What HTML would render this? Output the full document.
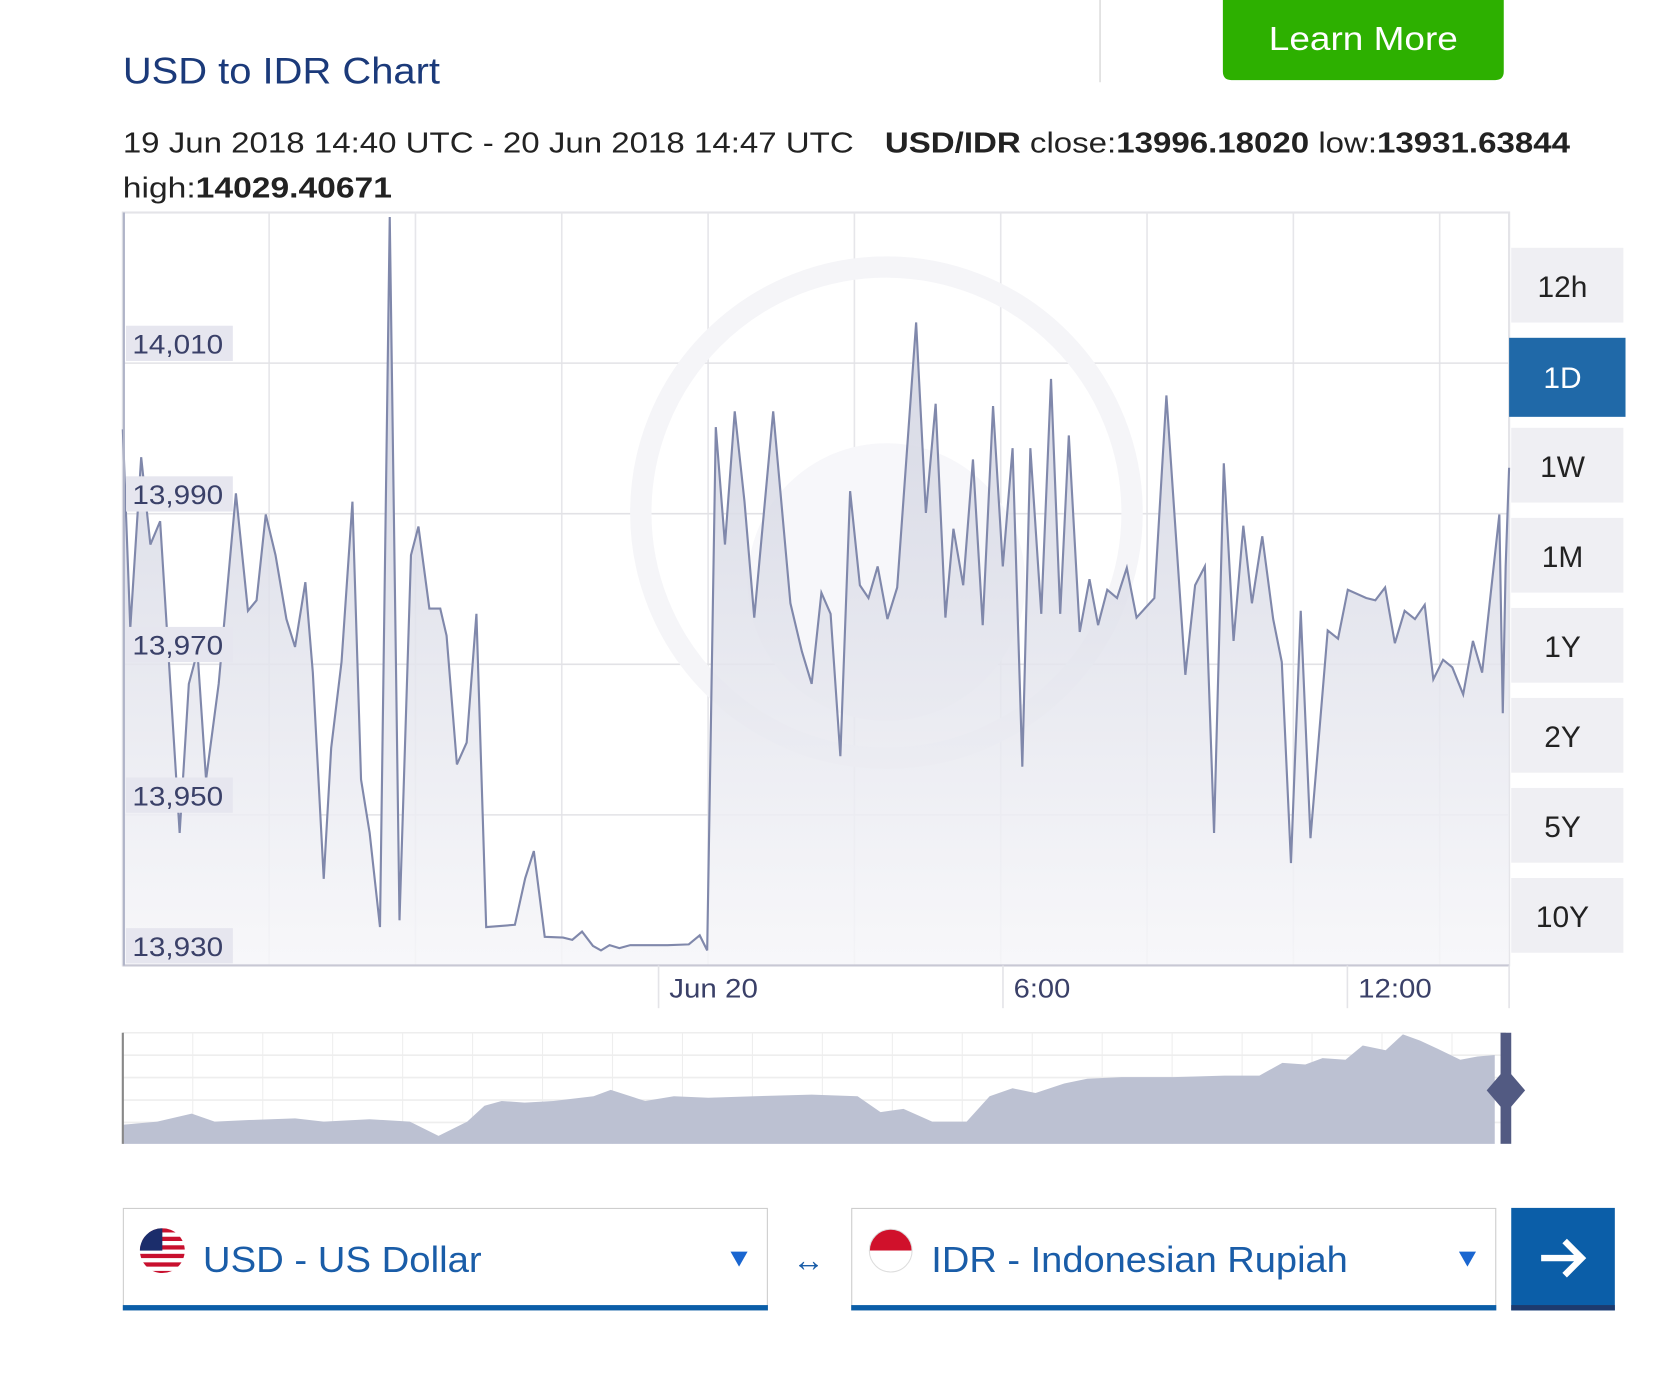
<!DOCTYPE html>
<html><head><meta charset="utf-8"><style>
html,body{margin:0;padding:0;background:#fff;}
svg{display:block;}
text{font-family:"Liberation Sans",sans-serif;}
</style></head><body>
<svg id="root" width="1674" height="1376" viewBox="0 0 1567.4 1288.4" preserveAspectRatio="none">
<defs>
<linearGradient id="fillG" x1="0" y1="0" x2="0" y2="1">
<stop offset="0" stop-color="#c9ccdc"/><stop offset="1" stop-color="#f6f6f9"/>
</linearGradient>
</defs>
<text x="115" y="78" font-size="35" fill="#1b3a7a" textLength="297" lengthAdjust="spacingAndGlyphs">USD to IDR Chart</text>
<line x1="1030" y1="0" x2="1030" y2="77" stroke="#ddd" stroke-width="1.5"/>
<g>
<path d="M1145 0 H1408 V67 Q1408 75 1400 75 H1153 Q1145 75 1145 67 Z" fill="#2db000"/>
<text x="1188" y="47" font-size="31" fill="#fff" textLength="177" lengthAdjust="spacingAndGlyphs">Learn More</text>
</g>
<text x="115" y="143" font-size="27" fill="#222" textLength="1355" lengthAdjust="spacingAndGlyphs">19 Jun 2018 14:40 UTC - 20 Jun 2018 14:47 UTC <tspan dx="18" font-weight="bold">USD/IDR</tspan> close:<tspan font-weight="bold">13996.18020</tspan> low:<tspan font-weight="bold">13931.63844</tspan></text>
<text x="115" y="185" font-size="27" fill="#222" textLength="252" lengthAdjust="spacingAndGlyphs">high:<tspan font-weight="bold">14029.40671</tspan></text>

<g id="plot"></g>
<g id="nav"></g>
<g id="ranges"></g>

<g>
<rect x="115.5" y="1131.5" width="603" height="95" fill="#fff" stroke="#ccc"/>
<rect x="115" y="1222" width="604" height="5" fill="#0b5ea8"/>
<clipPath id="usc"><circle cx="152" cy="1171" r="21"/></clipPath>
<g clip-path="url(#usc)">
<rect x="130" y="1150" width="44" height="44" fill="#fff"/>
<rect x="130" y="1150" width="44" height="4" fill="#c8102e"/><rect x="130" y="1158" width="44" height="4" fill="#c8102e"/>
<rect x="130" y="1166" width="44" height="4" fill="#c8102e"/><rect x="130" y="1174" width="44" height="4" fill="#c8102e"/>
<rect x="130" y="1182" width="44" height="4" fill="#c8102e"/><rect x="130" y="1190" width="44" height="4" fill="#c8102e"/>
<rect x="130" y="1150" width="22" height="21" fill="#1b2d6b"/>
</g>
<text x="190" y="1191" font-size="34" fill="#1a5da8" textLength="261" lengthAdjust="spacingAndGlyphs">USD - US Dollar</text>
<path d="M684 1172 H700 L692 1186 Z" fill="#1a66d0"/>
</g>
<text x="757" y="1190" font-size="30" fill="#1a5da8" text-anchor="middle">↔</text>
<g>
<rect x="797.5" y="1131.5" width="603" height="95" fill="#fff" stroke="#ccc"/>
<rect x="797" y="1222" width="604" height="5" fill="#0b5ea8"/>
<clipPath id="idc"><circle cx="834" cy="1171" r="20"/></clipPath>
<g clip-path="url(#idc)"><rect x="812" y="1149" width="44" height="22" fill="#d0112b"/><rect x="812" y="1171" width="44" height="22" fill="#fff"/></g>
<circle cx="834" cy="1171" r="20" fill="none" stroke="#ddd"/>
<text x="872" y="1191" font-size="34" fill="#1a5da8" textLength="390" lengthAdjust="spacingAndGlyphs">IDR - Indonesian Rupiah</text>
<path d="M1366 1172 H1382 L1374 1186 Z" fill="#1a66d0"/>
</g>
<g>
<rect x="1415" y="1131" width="97" height="96" fill="#0b5ea8"/>
<rect x="1415" y="1222" width="97" height="5" fill="#1d3a6e"/>
<path d="M1443 1178 H1480 M1465 1162 L1481 1178 L1465 1194" stroke="#fff" stroke-width="6" fill="none"/>
</g>
</svg>
<script>
const hoursIdx=[0,0.13,0.32,0.48,0.65,0.99,1.15,1.30,1.45,1.67,1.97,2.18,2.33,2.49,2.66,2.85,3.00,3.18,3.31,3.50,3.63,3.81,4.00,4.15,4.30,4.48,4.65,4.82,5.02,5.15,5.34,5.53,5.64,5.82,5.99,6.16,6.33,6.83,7.01,7.16,7.35,7.67,7.83,8.00,8.19,8.33,8.48,8.65,8.84,9.49,9.86,10.05,10.18,10.33,10.49,10.66,10.83,11.00,11.33,11.63,11.83,12.00,12.17,12.33,12.50,12.67,12.84,12.99,13.15,13.32,13.49,13.82,13.99,14.16,14.33,14.47,14.64,14.81,14.98,15.16,15.33,15.50,15.67,15.81,16.00,16.17,16.33,16.48,16.67,16.84,16.99,17.15,17.32,17.49,17.66,17.97,18.18,18.51,18.68,18.85,19.01,19.18,19.35,19.52,19.67,19.85,20.04,20.19,20.35,20.52,20.69,20.99,21.17,21.34,21.66,21.82,21.99,22.16,22.33,22.51,22.68,22.83,23.00,23.16,23.35,23.52,23.68,23.98,24.04,24.09,24.15];
const rateVals=[14001.2,13974.8,13997.5,13985.9,13989.0,13947.6,13967.4,13971.7,13954.7,13967.4,13992.7,13977.1,13978.5,13989.9,13984.5,13976.0,13972.3,13980.9,13968.9,13941.5,13958.9,13970.3,13991.6,13954.7,13947.6,13935.1,14029.4,13936.0,13984.5,13988.3,13977.4,13977.4,13973.8,13956.7,13959.6,13976.7,13935.1,13935.4,13941.6,13945.2,13933.8,13933.7,13933.4,13934.5,13932.6,13932.0,13932.7,13932.3,13932.7,13932.7,13932.8,13934.0,13932.0,14001.5,13985.9,14003.6,13991.6,13976.2,14003.6,13978.1,13971.7,13967.4,13979.5,13976.7,13957.8,13993.0,13980.5,13978.8,13983.0,13976.0,13980.2,14015.4,13990.1,14004.6,13976.2,13988.0,13980.5,13997.2,13975.2,14004.3,13983.0,13998.7,13956.4,13998.7,13976.7,14007.9,13976.7,14000.4,13974.3,13981.3,13975.2,13979.9,13978.8,13982.8,13976.2,13978.8,14005.7,13968.6,13980.5,13983.0,13947.6,13996.7,13973.1,13988.4,13978.1,13987.0,13976.0,13970.3,13943.6,13977.1,13946.9,13974.5,13973.4,13979.9,13978.8,13978.5,13980.2,13972.8,13977.1,13976.0,13977.9,13968.0,13970.6,13969.6,13966.0,13973.1,13968.9,13989.9,13963.5,13983.0,13996.1];
const yTicks=[13930,13950,13970,13990,14010];
const yTickLabels=["13,930","13,950","13,970","13,990","14,010"];
const xTickHours=[9.333,15.333,21.333];
const xTickLabels=["Jun 20","6:00","12:00"];
const navHours=[0,0.6,1.2,1.6,2.2,3.0,3.5,4.3,5.0,5.5,6.0,6.3,6.6,7.0,7.5,8.2,8.5,9.1,9.6,10.2,11.0,12.0,12.8,13.2,13.6,14.1,14.7,15.1,15.5,15.9,16.4,16.8,17.4,18.3,19.2,19.8,20.2,20.6,20.9,21.3,21.6,22.0,22.3,22.6,22.9,23.3,23.6,23.9];
const navVals=[13420,13440,13490,13440,13450,13460,13440,13455,13440,13350,13440,13540,13570,13560,13570,13600,13640,13570,13600,13590,13600,13610,13600,13500,13520,13440,13440,13600,13650,13620,13680,13710,13720,13720,13730,13730,13810,13800,13840,13830,13920,13890,13990,13950,13900,13830,13850,13860];
const rangeLabels=["12h","1D","1W","1M","1Y","2Y","5Y","10Y"];
const NS="http://www.w3.org/2000/svg";
const P={x0:115,x1:1413,y0:199,y1:904};
const xS=h=>P.x0+h*(P.x1-P.x0)/24.15;
const yS=v=>P.y1-(v-13930)*(141/20);
function mk(t,a,parent){const e=document.createElementNS(NS,t);for(const k in a)e.setAttribute(k,a[k]);parent.appendChild(e);return e;}
const plot=document.getElementById('plot');
mk('rect',{x:P.x0,y:P.y0,width:P.x1-P.x0,height:P.y1-P.y0,fill:'#fff',stroke:'#e4e4e8','stroke-width':2},plot);
for(let i=1;i<10;i++){const gx=P.x0+i*137;const l=mk('line',{x1:gx,y1:P.y0,x2:gx,y2:P.y1,stroke:'#e6e6ea','stroke-width':1.5},plot);

}
yTicks.forEach((v,i)=>{const l=mk('line',{x1:P.x0,y1:yS(v),x2:P.x1,y2:yS(v),stroke:'#e2e2e6','stroke-width':1.5},plot);

});
mk('circle',{cx:830,cy:480,r:230,fill:'none',stroke:'#f5f5f8','stroke-width':20},plot);
mk('circle',{cx:830,cy:545,r:130,fill:'#f7f7fa'},plot);
const n=Math.min(hoursIdx.length,rateVals.length);
let d='M'+xS(hoursIdx[0])+' '+yS(rateVals[0]);
for(let i=1;i<n;i++)d+=' L'+xS(hoursIdx[i])+' '+yS(rateVals[i]);
const area=mk('path',{d:d+' L'+xS(hoursIdx[n-1])+' '+P.y1+' L'+xS(hoursIdx[0])+' '+P.y1+' Z',fill:'url(#fillG)','fill-opacity':0.85},plot);


const line=mk('path',{d:d,fill:'none',stroke:'#8088ab','stroke-width':2},plot);


mk('line',{x1:P.x0,y1:P.y1,x2:P.x1,y2:P.y1,stroke:'#c8c8d4','stroke-width':2},plot);
mk('line',{x1:P.x0+1,y1:P.y0,x2:P.x0+1,y2:P.y1,stroke:'#b0b4c8','stroke-width':2},plot);
yTicks.forEach((v,i)=>{const y=yS(v)-18;
const r=mk('rect',{x:118,y:y-17,width:100,height:33,fill:'#e6e6ef'},plot);


const t=mk('text',{x:124,y:y+9,'font-size':25,fill:'#3a4068',textLength:85,lengthAdjust:'spacingAndGlyphs'},plot);t.textContent=yTickLabels[i];

});
const xLens=[83,53,69];
xTickHours.forEach((h,i)=>{const x=xS(h);
mk('line',{x1:x,y1:P.y1,x2:x,y2:P.y1+40,stroke:'#e4e4e8','stroke-width':1.5},plot);
const t=mk('text',{x:x+10,y:934,'font-size':25,fill:'#3a4068',textLength:xLens[i],lengthAdjust:'spacingAndGlyphs'},plot);t.textContent=xTickLabels[i];

});
mk('line',{x1:P.x1,y1:P.y1,x2:P.x1,y2:P.y1+40,stroke:'#e4e4e8','stroke-width':1.5},plot);
// navigator
const nav=document.getElementById('nav');
const N={y0:967,y1:1071};
const nyS=v=>N.y1-(v-13300)*(N.y1-N.y0)/(14000-13300);
for(let i=0;i<20;i++)mk('line',{x1:P.x0+i*65.5,y1:N.y0,x2:P.x0+i*65.5,y2:N.y1,stroke:'#eee'},nav);
for(let j=0;j<5;j++)mk('line',{x1:P.x0,y1:N.y0+j*21,x2:1410,y2:N.y0+j*21,stroke:'#eee','stroke-width':1.5},nav);
let nd='M'+xS(navHours[0])+' '+N.y1;
navHours.forEach((h,i)=>{nd+=' L'+xS(h)+' '+nyS(navVals[i]);});
nd+=' L'+xS(navHours[navHours.length-1])+' '+N.y1+' Z';
const na=mk('path',{d:nd,fill:'#bcc1d2'},nav);


mk('line',{x1:P.x0,y1:N.y0,x2:P.x0,y2:N.y1,stroke:'#888','stroke-width':2},nav);
const hd=mk('g',{},nav);


mk('rect',{x:1405,y:N.y0,width:10,height:N.y1-N.y0,fill:'#525a82'},hd);
mk('path',{d:'M1410 1000 L1428 1021 L1410 1042 L1392 1021 Z',fill:'#525a82'},hd);
// range buttons
const rg=document.getElementById('ranges');
rangeLabels.forEach((lab,i)=>{const y=232+i*84.3;const sel=lab==='1D';
const g=mk('g',{},rg);


mk('rect',{x:sel?1413:1415,y:y,width:sel?109:105,height:sel?74:70,fill:sel?'#2069a8':'#efeff3'},g);
const t=mk('text',{x:1463,y:y+(sel?47:46),'font-size':28,fill:sel?'#fff':'#222','text-anchor':'middle'},g);t.textContent=lab;});
</script>
</body></html>
